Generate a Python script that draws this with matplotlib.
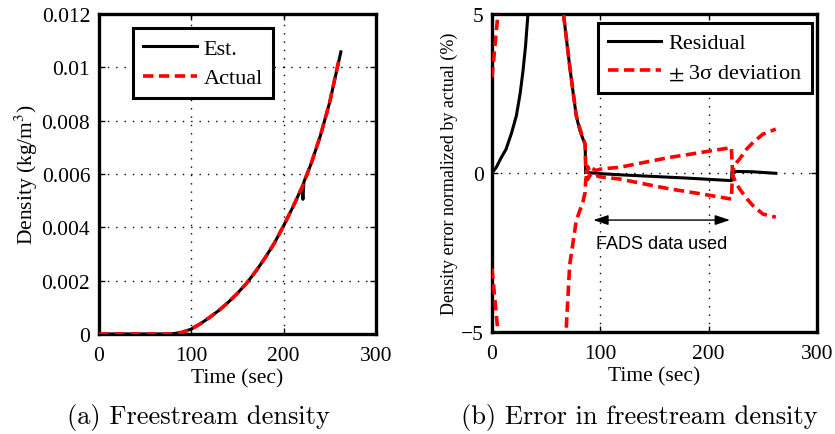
import matplotlib
matplotlib.use("Agg")
import matplotlib.pyplot as plt
import numpy as np

# (a) freestream density, kg/m^3
t_actual = [0, 40, 70, 80, 90, 100, 110, 120, 130, 140, 150, 160, 170, 180,
            190, 200, 210, 220, 230, 240, 250, 260]
rho_actual = [0, 0, 0, 0.00001, 0.00006, 0.00018, 0.00038, 0.00062, 0.00088,
              0.00118, 0.00152, 0.00190, 0.00235, 0.00285, 0.00340, 0.00405,
              0.00475, 0.00550, 0.00640, 0.00745, 0.00870, 0.01030]
t_est = [0, 40, 70, 80, 90, 100, 110, 120, 130, 140, 150, 160, 170, 180,
         190, 200, 210, 220, 221, 222, 230, 240, 250, 262]
rho_est = [0, 0, 0, 0.00001, 0.00006, 0.00018, 0.00038, 0.00062, 0.00088,
           0.00118, 0.00152, 0.00190, 0.00235, 0.00285, 0.00340, 0.00405,
           0.00475, 0.00550, 0.00505, 0.00570, 0.00640, 0.00745, 0.00870, 0.01058]

# (b) density error normalized by actual, %
t_res = [0, 4, 8, 13, 18, 22.5, 26, 28.6, 31, 33.2, 36, 64, 66, 71.7, 75, 77.8,
         81, 84, 86, 86.5, 100, 120, 150, 180, 221, 221.5, 240, 262]
err_res = [0, 0.18, 0.45, 0.75, 1.25, 1.8, 2.5, 3.2, 4.0, 5.0, 7.5, 7.0, 5.0,
           3.37, 2.5, 1.8, 1.35, 1.07, 0.91, 0.02, -0.02, -0.06, -0.11, -0.16,
           -0.24, 0.05, 0.04, -0.01]
t_band = [0, 5.5, 8, 62, 66, 71.7, 77.8, 84, 86, 86.5, 87.5, 88.5, 90, 92, 96,
          100, 105, 118, 140, 164, 190, 221, 222, 225, 228.6, 235, 241, 250, 262]
err_up = [3.0, 5.0, 8.0, 8.0, 5.0, 3.37, 1.8, 1.07, 0.91, 0.25, 0.02, 0.2,
          0.06, 0.15, 0.08, 0.12, 0.14, 0.18, 0.33, 0.49, 0.63, 0.80, 0.05,
          0.30, 0.44, 0.75, 0.96, 1.22, 1.38]
err_lo = [-3.0, -5.0, -8.0, -8.0, -6.5, -2.9, -1.5, -0.9, -0.6, -0.25, -0.02,
          -0.2, -0.06, -0.15, -0.08, -0.12, -0.14, -0.19, -0.34, -0.50, -0.64,
          -0.82, -0.05, -0.30, -0.50, -0.80, -1.03, -1.29, -1.39]
fads_start, fads_end = 93.5, 219.7

SERIF = ["Liberation Serif", "DejaVu Serif"]
plt.rcParams["font.family"] = SERIF
plt.rcParams["mathtext.fontset"] = "stix"

DASH = (0, (2.9, 1.5))
GRID = dict(color="black", linestyle=(0, (1, 5)), linewidth=1.0)


def style_axes(ax):
    for s in ax.spines.values():
        s.set_linewidth(2.4)
    ax.tick_params(direction="in", length=4, width=1, top=True, right=True,
                   labelsize=15.5, pad=6)
    ax.tick_params(axis="x", pad=9)
    ax.set_axisbelow(False)


def boxed_legend(ax, anchor):
    leg = ax.legend(loc="upper left", bbox_to_anchor=anchor, fontsize=16,
                    handlelength=2.4, handletextpad=0.3, borderaxespad=0,
                    borderpad=0.45, labelspacing=0.4, fancybox=False,
                    framealpha=1, edgecolor="black")
    leg.get_frame().set_linewidth(2.2)
    return leg


fig = plt.figure(figsize=(8.35, 4.35), dpi=100)
ax1 = fig.add_axes([0.1180, 0.2299, 0.3323, 0.7356])
ax2 = fig.add_axes([0.5892, 0.2345, 0.3892, 0.7310])

# --- left: density ---
for x in [100, 200]:
    ax1.axvline(x, **GRID, zorder=1)
for y in [0.002, 0.004, 0.006, 0.008, 0.01]:
    ax1.axhline(y, **GRID, zorder=1)
ax1.plot(t_est, rho_est, color="black", lw=2.2, label="Est.", zorder=3)
ax1.plot(t_actual, rho_actual, color="red", lw=2.6, linestyle=DASH,
         label="Actual", zorder=4)
ax1.set_xlim(0, 300)
ax1.set_ylim(0, 0.012)
ax1.set_xticks([0, 100, 200, 300])
ax1.set_yticks([0, 0.002, 0.004, 0.006, 0.008, 0.01, 0.012])
ax1.set_yticklabels(["0", "0.002", "0.004", "0.006", "0.008", "0.01", "0.012"])
ax1.set_xlabel("Time (sec)", fontsize=15.5, labelpad=2)
ax1.set_ylabel("Density (kg/m$^3$)", fontsize=15.5, labelpad=1)
style_axes(ax1)
boxed_legend(ax1, (0.126, 0.955))

# --- right: normalized error ---
for x in [100, 200]:
    ax2.axvline(x, **GRID, zorder=1)
ax2.axhline(0, **GRID, zorder=1)
ax2.plot(t_res, err_res, color="black", lw=2.2, label="Residual", zorder=3)
ax2.plot(t_band, err_up, color="red", lw=2.6, linestyle=DASH,
         label="$\\pm$ 3σ deviation", zorder=4)
ax2.plot(t_band, err_lo, color="red", lw=2.6, linestyle=DASH, zorder=4)
ax2.annotate("", xy=(fads_start, -1.48), xytext=(fads_end, -1.48),
             arrowprops=dict(arrowstyle="<|-|>,head_length=0.9,head_width=0.3",
                             color="black", lw=1.0, shrinkA=0, shrinkB=0))
ax2.text((fads_start + fads_end) / 2, -2.23, "FADS data used",
         family=["Liberation Sans", "DejaVu Sans"], fontsize=13,
         ha="center", va="center")
ax2.set_xlim(0, 300)
ax2.set_ylim(-5, 5)
ax2.set_xticks([0, 100, 200, 300])
ax2.set_yticks([-5, 0, 5])
ax2.set_yticklabels(["\u22125", "0", "5"])
ax2.set_xlabel("Time (sec)", fontsize=15.5, labelpad=2)
ax2.set_ylabel("Density error normalized by actual (%)", fontsize=13,
               labelpad=2)
style_axes(ax2)
boxed_legend(ax2, (0.326, 0.972))

# captions
fig.text(0.238, 0.041, "(a) Freestream density", family=["cmr10", "DejaVu Serif"],
         fontsize=19, ha="center", va="center")
fig.text(0.766, 0.041, "(b) Error in freestream density",
         family=["cmr10", "DejaVu Serif"], fontsize=19, ha="center", va="center")

fig.savefig("out.png", dpi=100)
